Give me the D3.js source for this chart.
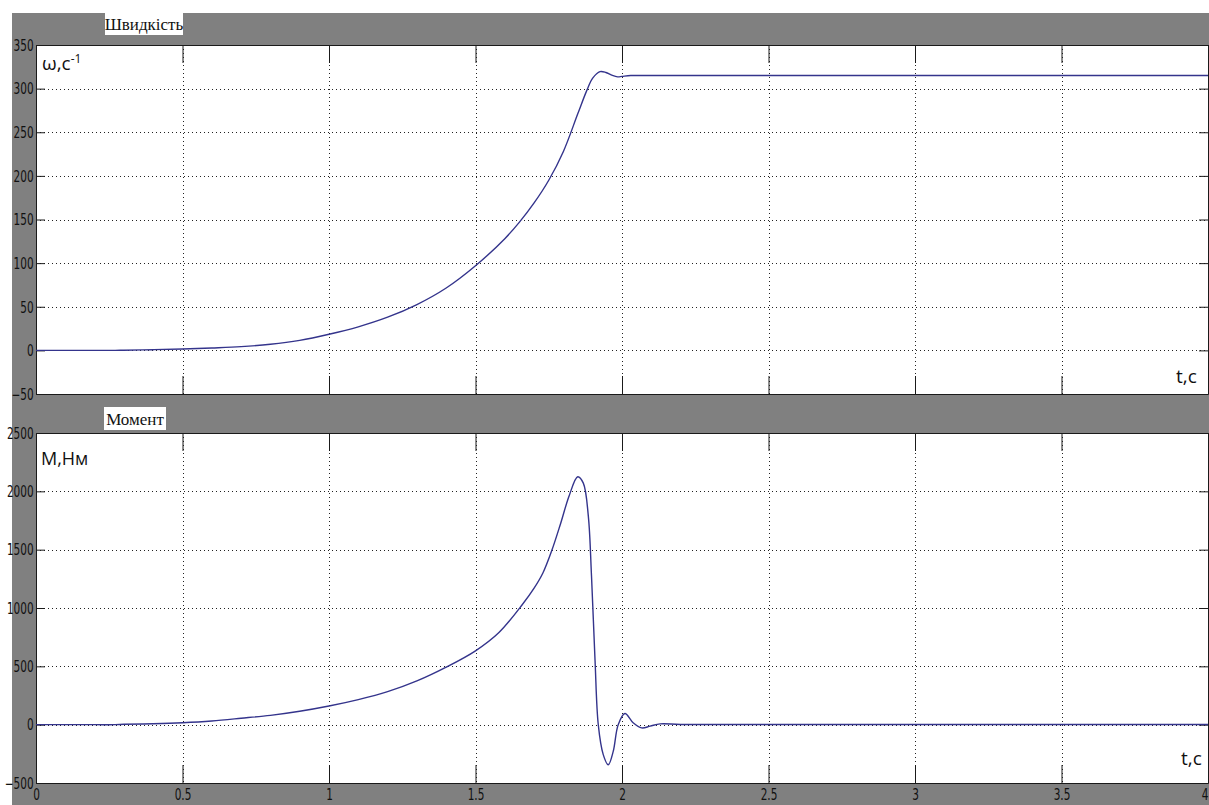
<!DOCTYPE html>
<html>
<head>
<meta charset="utf-8">
<script src="https://cdn.jsdelivr.net/npm/d3@7"></script>
<style>
  html, body { margin: 0; padding: 0; background: #ffffff; }
  svg { display: block; }
</style>
</head>
<body>
<svg id="chart" width="1209" height="805"></svg>
<script>
// ---- data ----
const xTicks = [0, 0.5, 1, 1.5, 2, 2.5, 3, 3.5, 4];
const xTickLabels = ["0", "0.5", "1", "1.5", "2", "2.5", "3", "3.5", "4"];
const speedTicks = [-50, 0, 50, 100, 150, 200, 250, 300, 350];
const torqueTicks = [-500, 0, 500, 1000, 1500, 2000, 2500];

const speedTime = [0, 0.2, 0.27, 0.3, 0.4, 0.5, 0.6, 0.7, 0.8, 0.9, 1.0, 1.1, 1.2, 1.3, 1.4, 1.5, 1.6, 1.65, 1.7, 1.75, 1.8, 1.85, 1.88, 1.9, 1.925, 1.945, 1.965, 1.985, 2.0, 2.03, 2.1, 2.5, 3.0, 3.5, 4.0];
const speedValues = [0, 0, 0, 0.2, 0.8, 1.6, 2.8, 4.3, 7, 11.5, 18.5, 27, 38, 52.5, 71.5, 97, 128, 147, 169, 195, 228, 272, 298, 312, 319.5, 318.5, 315.5, 313.5, 314, 315, 315, 315, 315, 315, 315];

const torqueTime = [0, 0.2, 0.27, 0.3, 0.4, 0.5, 0.6, 0.7, 0.8, 0.9, 1.0, 1.1, 1.2, 1.3, 1.4, 1.5, 1.58, 1.66, 1.7, 1.73, 1.76, 1.79, 1.82, 1.849, 1.868, 1.885, 1.896, 1.908, 1.919, 1.936, 1.953, 1.97, 1.987, 2.01, 2.038, 2.067, 2.096, 2.13, 2.2, 2.5, 3.0, 3.5, 4.0];
const torqueValues = [0, 0, 0, 3, 8, 17, 32, 55, 80, 115, 160, 215, 283, 375, 493, 633, 790, 1030, 1170, 1300, 1490, 1720, 1965, 2125, 2070, 1790, 1270, 550, 0, -257, -344, -229, 0, 96, 16, -28, -13, 7, 2, 2, 2, 2, 2];

// ---- layout ----
const svg = d3.select("#chart");
const W = 1209, H = 805;
const left = 36, right = 1208;
const lineColor = "#34348c";
const narrowFont = "'Liberation Sans Narrow', 'DejaVu Sans Condensed', 'Arial Narrow', sans-serif";

svg.append("rect").attr("x", 12).attr("y", 13).attr("width", W - 12).attr("height", H - 13).attr("fill", "#808080");

const x = d3.scaleLinear().domain([0, 4]).range([left, right]);

const panels = [
  { top: 45, bottom: 394, domain: [-50, 350], ticks: speedTicks, time: speedTime, values: speedValues,
    title: "Швидкість", titleBox: [105, 13, 78, 22], showX: false },
  { top: 433, bottom: 783, domain: [-500, 2500], ticks: torqueTicks, time: torqueTime, values: torqueValues,
    title: "Момент", titleBox: [104, 407, 62, 23], showX: true }
];

panels.forEach((p) => {
  const y = d3.scaleLinear().domain(p.domain).range([p.bottom, p.top]);
  const g = svg.append("g");

  // plot background
  g.append("rect").attr("x", left).attr("y", p.top).attr("width", right - left).attr("height", p.bottom - p.top)
    .attr("fill", "#ffffff");

  // gridlines
  g.append("g").selectAll("line").data(xTicks.slice(1, -1)).join("line")
    .attr("x1", d => Math.round(x(d)) + 0.5).attr("x2", d => Math.round(x(d)) + 0.5)
    .attr("y1", p.top).attr("y2", p.bottom)
    .attr("stroke", "#222").attr("stroke-width", 1).attr("stroke-dasharray", "1,3");
  g.append("g").selectAll("line").data(p.ticks.slice(1, -1)).join("line")
    .attr("y1", d => Math.round(y(d)) + 0.5).attr("y2", d => Math.round(y(d)) + 0.5)
    .attr("x1", left).attr("x2", right)
    .attr("stroke", "#222").attr("stroke-width", 1).attr("stroke-dasharray", "1,3");

  // axes with inward ticks
  const axL = g.append("g").attr("transform", `translate(${left},0)`)
    .call(d3.axisLeft(y).tickValues(p.ticks).tickSize(-9).tickSizeOuter(0).tickPadding(3).tickFormat(d3.format("d")));
  const axR = g.append("g").attr("transform", `translate(${right},0)`)
    .call(d3.axisRight(y).tickValues(p.ticks).tickSize(-9).tickSizeOuter(0).tickFormat(""));
  const axT = g.append("g").attr("transform", `translate(0,${p.top})`)
    .call(d3.axisTop(x).tickValues(xTicks).tickSize(-18).tickSizeOuter(0).tickFormat(""));
  const axB = g.append("g").attr("transform", `translate(0,${p.bottom})`)
    .call(d3.axisBottom(x).tickValues(xTicks).tickSize(-18).tickSizeOuter(0)
      .tickFormat((d, i) => p.showX ? xTickLabels[i] : "").tickPadding(6));

  [axL, axR, axT, axB].forEach(a => {
    a.select(".domain").attr("stroke", "#1a1a1a");
    a.selectAll(".tick line").attr("stroke", "#1a1a1a");
  });
  axL.selectAll("text")
    .attr("font-family", narrowFont).attr("font-size", 15).attr("fill", "#111")
    .attr("dy", "0.35em")
    .attr("transform", "scale(0.78,1)");
  axB.selectAll("text")
    .attr("font-family", narrowFont).attr("font-size", 15).attr("fill", "#111")
    .attr("transform", "scale(0.78,1)")
    .attr("text-anchor", (d, i) => i === xTicks.length - 1 ? "end" : "middle");

  // data line
  const pts = p.time.map((t, i) => [t, p.values[i]]);
  g.append("path").datum(pts)
    .attr("fill", "none").attr("stroke", lineColor).attr("stroke-width", 1.4)
    .attr("stroke-linejoin", "round")
    .attr("d", d3.line().x(d => x(d[0])).y(d => y(d[1])).curve(d3.curveCatmullRom.alpha(0.5)));

  // title box
  const [bx, by, bw, bh] = p.titleBox;
  svg.append("rect").attr("x", bx).attr("y", by).attr("width", bw).attr("height", bh).attr("fill", "#ffffff");
  svg.append("text").attr("x", bx + bw / 2).attr("y", by + bh - 5)
    .attr("text-anchor", "middle")
    .attr("font-family", "'Liberation Serif', 'DejaVu Serif', serif")
    .attr("font-size", 17).attr("fill", "#111").text(p.title);
});

// axis labels inside plots
const sans = "'Open Sans', 'Noto Sans', sans-serif";
const wl = svg.append("text").attr("x", 42).attr("y", 70).attr("font-family", sans).attr("font-size", 19).attr("fill", "#111");
wl.append("tspan").text("ω,с");
wl.append("tspan").attr("dy", -7).attr("font-size", 12).text("-1");

svg.append("text").attr("x", 1176).attr("y", 383).attr("font-family", sans).attr("font-size", 19).attr("fill", "#111").text("t,c");
svg.append("text").attr("x", 41).attr("y", 465).attr("font-family", sans).attr("font-size", 18).attr("fill", "#111").text("M,Hм");
svg.append("text").attr("x", 1181).attr("y", 765).attr("font-family", sans).attr("font-size", 19).attr("fill", "#111").text("t,c");
</script>
</body>
</html>
